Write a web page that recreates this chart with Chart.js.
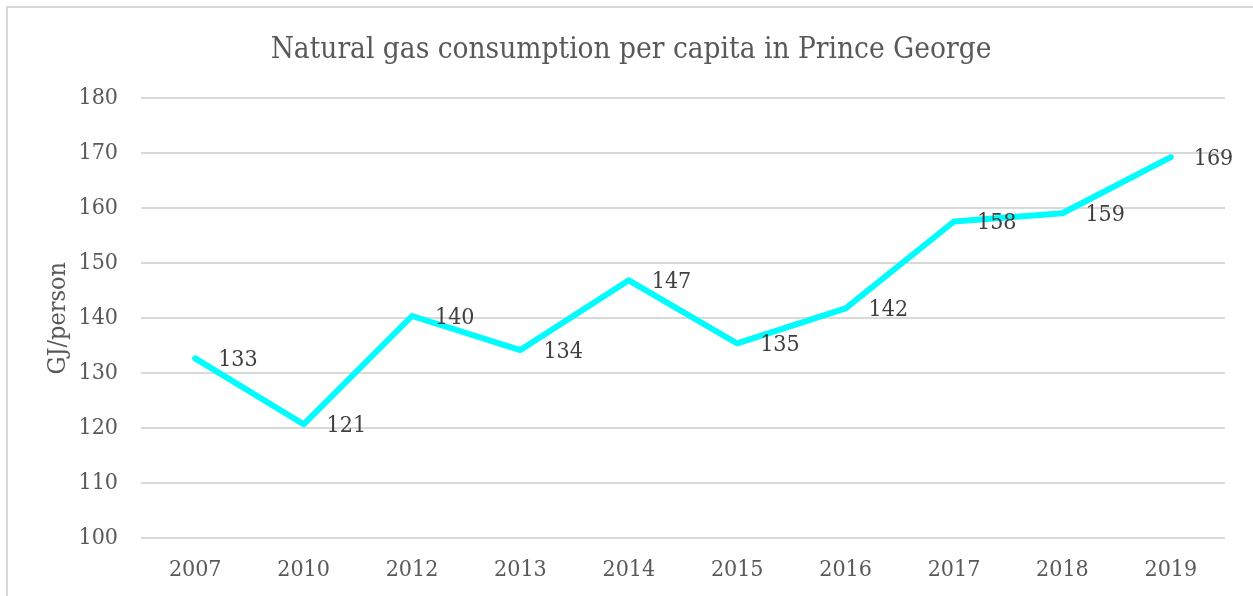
<!DOCTYPE html>
<html>
<head>
<meta charset="utf-8">
<script src="https://cdn.jsdelivr.net/npm/chart.js@4"></script>
<style>
  html, body { margin: 0; padding: 0; background: #fff; overflow: hidden; }
  #frame { position: absolute; left: 6px; top: 6px; width: 1400px; height: 800px; border: 2px solid #d9d9d9; box-sizing: border-box; }
  #wrap { position: absolute; left: 0; top: 0; width: 1253px; height: 596px; }
</style>
</head>
<body>
<div id="frame"></div>
<div id="wrap"><canvas id="gasChart" width="1253" height="596"></canvas></div>
<script>
// données
const years = ["2007", "2010", "2012", "2013", "2014", "2015", "2016", "2017", "2018", "2019"];
const gjPerPerson = [132.7, 120.7, 140.4, 134.2, 146.9, 135.4, 141.8, 157.6, 159.1, 169.3];
const yTicks = [100, 110, 120, 130, 140, 150, 160, 170, 180];

const SERIF = "'DejaVu Serif Condensed', 'DejaVu Serif', serif";

// étiquettes de valeurs à droite de chaque point
const valueLabels = {
    id: "valueLabels",
    afterDatasetsDraw(chart) {
        const ctx = chart.ctx;
        const meta = chart.getDatasetMeta(0);
        ctx.save();
        ctx.font = "23px " + SERIF;
        ctx.fillStyle = "#404040";
        ctx.textAlign = "left";
        ctx.textBaseline = "middle";
        meta.data.forEach((pt, i) => {
            ctx.fillText(String(Math.round(gjPerPerson[i])), pt.x + 23, pt.y + 2);
        });
        ctx.restore();
    }
};

new Chart(document.getElementById("gasChart"), {
    type: "line",
    data: {
        labels: years,
        datasets: [{
            data: gjPerPerson,
            borderColor: "#00fcfc",
            borderWidth: 6,
            pointRadius: 0,
            tension: 0,
            borderJoinStyle: "round",
            borderCapStyle: "round",
            fill: false
        }]
    },
    options: {
        responsive: false,
        animation: false,
        layout: { padding: { top: 33, right: 28, left: 37, bottom: 0 } },
        plugins: {
            legend: { display: false },
            tooltip: { enabled: false },
            title: {
                display: true,
                text: "Natural gas consumption per capita in Prince George",
                color: "#595959",
                font: { family: SERIF, size: 29.5, weight: "normal" },
                padding: { top: 0, bottom: 30 }
            }
        },
        scales: {
            x: {
                offset: true,
                grid: { display: false, drawTicks: false },
                border: { display: false },
                ticks: { color: "#595959", font: { family: SERIF, size: 23 }, padding: 18, maxRotation: 0 },
                afterFit(scale) { scale.height = 58; }
            },
            y: {
                min: 100,
                max: 180,
                afterBuildTicks(scale) { scale.ticks = yTicks.map(v => ({ value: v })); },
                grid: { color: "#d9d9d9", lineWidth: 2, drawTicks: false },
                border: { display: false },
                ticks: { color: "#595959", font: { family: SERIF, size: 23 }, padding: 23 },
                title: {
                    display: true,
                    text: "GJ/person",
                    color: "#595959",
                    font: { family: SERIF, size: 25, weight: "normal" },
                    padding: { top: 6, bottom: 0 }
                },
                afterFit(scale) { scale.width = 104; }
            }
        }
    },
    plugins: [valueLabels]
});
</script>
</body>
</html>
